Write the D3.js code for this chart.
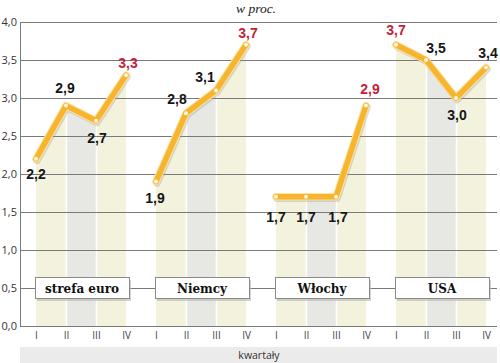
<!DOCTYPE html>
<html>
<head>
<meta charset="utf-8">
<script src="https://cdn.jsdelivr.net/npm/d3@7"></script>
<style>
  html, body { margin: 0; padding: 0; background: #fff; }
  svg { display: block; }
</style>
</head>
<body>
<svg id="chart" width="500" height="363"></svg>
<script>
// ---- data ----
const groups = ["strefa euro", "Niemcy", "Włochy", "USA"];
const quarters = ["I", "II", "III", "IV"];
const euroValues = [2.2, 2.9, 2.7, 3.3];
const niemcyValues = [1.9, 2.8, 3.1, 3.7];
const wlochyValues = [1.7, 1.7, 1.7, 2.9];
const usaValues = [3.7, 3.5, 3.0, 3.4];
const yTicks = [0, 0.5, 1.0, 1.5, 2.0, 2.5, 3.0, 3.5, 4.0];
const chartTitle = "w proc.";
const xTitle = "kwartały";

// ---- layout (label nudges, px) ----
const labelNudge = [
  [0, 20], [-1, -13], [1, 22], [2, -7],
  [-1, 21], [-9, -9], [-11, -8], [2, -7],
  [0, 25], [0, 25], [2, 25], [4, -12],
  [0, -10], [10, -7], [1, 22], [2, -10]
];

const seriesValues = [euroValues, niemcyValues, wlochyValues, usaValues];
const points = [];
groups.forEach((g, gi) => {
  quarters.forEach((q, qi) => {
    points.push({ key: gi + "-" + qi, group: gi, q: qi, quarter: q, value: seriesValues[gi][qi] });
  });
});

const svg = d3.select("#chart");
const pLeft = 20, pRight = 497, pTop = 22, pBottom = 326;

const x = d3.scalePoint().domain(points.map(d => d.key)).range([36, 486]);
const y = d3.scaleLinear().domain([0, 4]).range([pBottom, pTop]);
const fmt = v => d3.format(".1f")(v).replace(".", ",");

// title
svg.append("text")
  .attr("x", 256).attr("y", 13)
  .attr("text-anchor", "middle")
  .attr("font-family", "Liberation Serif, DejaVu Serif, serif")
  .attr("font-style", "italic")
  .attr("font-size", 13.5)
  .attr("fill", "#222")
  .text(chartTitle);

// stripes (area under each line, per segment)
const stripeColors = ["#f3f3dd", "#e7e7e4", "#f3f3dd"];
const gStripes = svg.append("g");
groups.forEach((g, gi) => {
  const pts = points.filter(d => d.group === gi);
  for (let k = 0; k < 3; k++) {
    const seg = [pts[k], pts[k + 1]];
    const area = d3.area()
      .x(d => x(d.key))
      .y0(pBottom)
      .y1(d => y(d.value));
    gStripes.append("path")
      .attr("d", area(seg))
      .attr("fill", stripeColors[k]);
  }
  [1, 2].forEach(k => {
    gStripes.append("line")
      .attr("x1", x(pts[k].key) + 0.5).attr("x2", x(pts[k].key) + 0.5)
      .attr("y1", pTop).attr("y2", pBottom)
      .attr("stroke", "#fff").attr("stroke-width", 1.5);
  });
});

// gridlines
const grid = svg.append("g")
  .attr("transform", `translate(${pLeft},0)`)
  .call(d3.axisRight(y).tickValues(yTicks).tickSize(pRight - pLeft).tickFormat(""));
grid.select(".domain").remove();
grid.selectAll(".tick line").attr("stroke", "#7a7a7a").attr("stroke-width", 1).attr("shape-rendering", "crispEdges");

// y axis labels
const yAxis = svg.append("g")
  .attr("transform", `translate(${pLeft},0)`)
  .call(d3.axisLeft(y).tickValues(yTicks).tickSize(0).tickPadding(3).tickFormat(fmt));
yAxis.select(".domain").attr("stroke", "#7a7a7a").attr("shape-rendering", "crispEdges");
yAxis.selectAll("text")
  .attr("font-family", "Open Sans, DejaVu Sans, sans-serif")
  .attr("font-size", 11)
  .attr("fill", "#333");

// bottom band
svg.append("rect")
  .attr("x", pLeft).attr("y", 347).attr("width", pRight - pLeft).attr("height", 16)
  .attr("fill", "#ebebeb");
svg.append("text")
  .attr("x", 259).attr("y", 359)
  .attr("text-anchor", "middle")
  .attr("font-family", "Open Sans, DejaVu Sans, sans-serif")
  .attr("font-size", 10.5)
  .attr("fill", "#333")
  .text(xTitle);

// x axis labels
const xAxis = svg.append("g")
  .attr("transform", `translate(0,${pBottom})`)
  .call(d3.axisBottom(x).tickSize(0).tickPadding(6).tickFormat(k => quarters[+k.split("-")[1]]));
xAxis.select(".domain").remove();
xAxis.selectAll("text")
  .attr("font-family", "Open Sans, DejaVu Sans, sans-serif")
  .attr("font-size", 10)
  .attr("fill", "#444");

// group boxes
const gBoxes = svg.append("g");
groups.forEach((g, gi) => {
  const pts = points.filter(d => d.group === gi);
  const x0 = x(pts[0].key) - 1, x1 = x(pts[3].key) + 3;
  const yc = y(0.5);
  gBoxes.append("rect")
    .attr("x", x0 + 2).attr("y", yc - 10 + 2).attr("width", x1 - x0).attr("height", 21)
    .attr("fill", "#b5b5b5").attr("opacity", 0.6);
  gBoxes.append("rect")
    .attr("x", x0 + 0.5).attr("y", yc - 10.5).attr("width", x1 - x0).attr("height", 21)
    .attr("fill", "#fff").attr("stroke", "#8a8a8a").attr("stroke-width", 1);
  gBoxes.append("text")
    .attr("x", (x0 + x1) / 2).attr("y", yc + 4.5)
    .attr("text-anchor", "middle")
    .attr("font-family", "DejaVu Serif, serif")
    .attr("font-weight", "bold")
    .attr("font-size", 12)
    .attr("fill", "#111")
    .text(g);
});

// lines
const line = d3.line().x(d => x(d.key)).y(d => y(d.value));
const gLines = svg.append("g");
groups.forEach((g, gi) => {
  const pts = points.filter(d => d.group === gi);
  gLines.append("path").attr("d", line(pts))
    .attr("transform", "translate(1,1.5)")
    .attr("fill", "none").attr("stroke", "#999").attr("stroke-opacity", 0.35)
    .attr("stroke-width", 7.5).attr("stroke-linejoin", "round").attr("stroke-linecap", "round");
  gLines.append("path").attr("d", line(pts))
    .attr("fill", "none").attr("stroke", "#fde3a0")
    .attr("stroke-width", 7.5).attr("stroke-linejoin", "round").attr("stroke-linecap", "round");
  gLines.append("path").attr("d", line(pts))
    .attr("fill", "none").attr("stroke", "#f7b52f")
    .attr("stroke-width", 5.5).attr("stroke-linejoin", "round").attr("stroke-linecap", "round");
});
gLines.selectAll("circle").data(points).join("circle")
  .attr("cx", d => x(d.key)).attr("cy", d => y(d.value)).attr("r", 2)
  .attr("fill", "#fff8e6");

// value labels
svg.append("g").selectAll("text").data(points).join("text")
  .attr("x", (d, i) => x(d.key) + labelNudge[i][0])
  .attr("y", (d, i) => y(d.value) + labelNudge[i][1])
  .attr("text-anchor", "middle")
  .attr("font-family", "Liberation Sans, Arial, sans-serif")
  .attr("font-weight", "bold")
  .attr("font-size", 14)
  .attr("fill", d => d.value === d3.max(seriesValues[d.group]) ? "#c41e3a" : "#151515")
  .text(d => fmt(d.value));
</script>
</body>
</html>
